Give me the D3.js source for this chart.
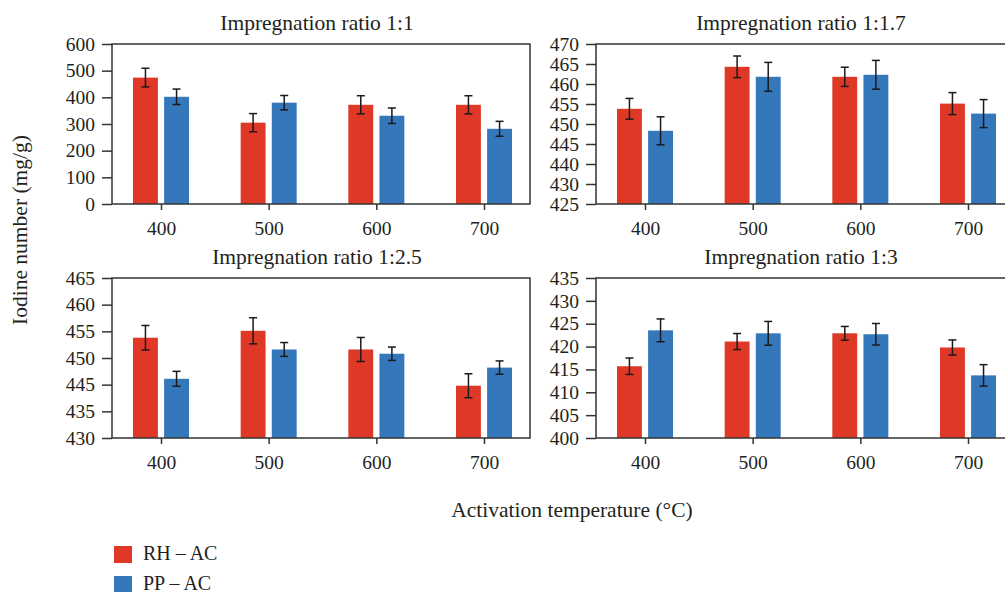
<!DOCTYPE html>
<html>
<head>
<meta charset="UTF-8">
<title>Iodine number</title>
<script src="https://d3js.org/d3.v7.min.js"></script>
<style>
  body { margin: 0; background: #fff; }
  svg { display: block; }
  .axis line { stroke: #333; stroke-width: 1.5; }
</style>
</head>
<body>
<svg width="1005" height="592"></svg>
<script>

// DATA

var temps = ["400", "500", "600", "700"];
var seriesNames = ["RH \u2013 AC", "PP \u2013 AC"];
var seriesColors = ["#e03826", "#3577bb"];
var panelTitles = ["Impregnation ratio 1:1", "Impregnation ratio 1:1.7",
                   "Impregnation ratio 1:2.5", "Impregnation ratio 1:3"];

// ratio 1:1
var rh11 = [474, 305, 372, 372];
var rh11Err = [35, 34, 34, 34];
var pp11 = [402, 380, 331, 282];
var pp11Err = [29, 27, 29, 28];
var ticks11 = [0, 100, 200, 300, 400, 500, 600];
var labels11 = ["0", "100", "200", "300", "400", "500", "600"];

// ratio 1:1.7
var rh17 = [453.8, 464.3, 461.8, 455.1];
var rh17Err = [2.6, 2.7, 2.4, 2.75];
var pp17 = [448.3, 461.8, 462.3, 452.6];
var pp17Err = [3.5, 3.6, 3.6, 3.5];
var ticks17 = [430, 435, 440, 445, 450, 455, 460, 465, 470];
var labels17 = ["425", "430", "440", "445", "450", "455", "460", "465", "470"];

// ratio 1:2.5
var rh25 = [453.8, 455.1, 451.6, 444.8];
var rh25Err = [2.3, 2.45, 2.25, 2.25];
var pp25 = [446.1, 451.6, 450.8, 448.2];
var pp25Err = [1.4, 1.3, 1.25, 1.25];
var ticks25 = [435, 440, 445, 450, 455, 460, 465];
var labels25 = ["430", "435", "445", "450", "455", "460", "465"];

// ratio 1:3
var rh3 = [415.7, 421.1, 422.9, 419.8];
var rh3Err = [1.8, 1.75, 1.5, 1.65];
var pp3 = [423.55, 422.9, 422.7, 413.7];
var pp3Err = [2.5, 2.6, 2.35, 2.35];
var ticks3 = [400, 405, 410, 415, 420, 425, 430, 435];
var labels3 = ["400", "405", "410", "415", "420", "425", "430", "435"];

// SETUP

var serif = "'Liberation Serif', 'Times New Roman', serif";
var ink = "#231f20";
var svg = d3.select("svg").attr("font-family", serif);
var panelW = 418, panelH = 160;

var panels = [
  { title: panelTitles[0], x: 112, y: 44, vals: [rh11, pp11], errs: [rh11Err, pp11Err], ticks: ticks11, labels: labels11 },
  { title: panelTitles[1], x: 596, y: 44, vals: [rh17, pp17], errs: [rh17Err, pp17Err], ticks: ticks17, labels: labels17 },
  { title: panelTitles[2], x: 112, y: 278, vals: [rh25, pp25], errs: [rh25Err, pp25Err], ticks: ticks25, labels: labels25 },
  { title: panelTitles[3], x: 596, y: 278, vals: [rh3, pp3], errs: [rh3Err, pp3Err], ticks: ticks3, labels: labels3 }
];

var x = d3.scalePoint().domain(temps).range([49, 372]);
var xSub = d3.scaleBand().domain([0, 1]).range([-28, 28]).paddingInner(0.2);

function styleAxis(a) {
  a.select(".domain").remove();
  a.attr("font-family", serif).attr("font-size", 19.5);
  a.selectAll("text").attr("fill", ink);
}

panels.forEach(function (p) {
  var g = svg.append("g").attr("transform", "translate(" + p.x + "," + p.y + ")");
  var y = d3.scaleLinear()
    .domain([p.ticks[0], p.ticks[p.ticks.length - 1]])
    .range([panelH, 0]);

  // bars
  var rows = [];
  temps.forEach(function (t, i) {
    [0, 1].forEach(function (s) {
      rows.push({ t: t, s: s, v: p.vals[s][i], e: p.errs[s][i] });
    });
  });

  g.selectAll(".bar").data(rows).enter().append("rect")
    .attr("class", "bar")
    .attr("x", function (d) { return x(d.t) + xSub(d.s); })
    .attr("y", function (d) { return y(d.v); })
    .attr("width", xSub.bandwidth())
    .attr("height", function (d) { return panelH - y(d.v); })
    .attr("fill", function (d) { return seriesColors[d.s]; });

  // error bars
  var eb = g.selectAll(".err").data(rows).enter().append("g")
    .attr("class", "err")
    .attr("transform", function (d) { return "translate(" + (x(d.t) + xSub(d.s) + xSub.bandwidth() / 2) + ",0)"; })
    .attr("stroke", "#1a1a1a")
    .attr("stroke-width", 1.5);
  eb.append("line")
    .attr("y1", function (d) { return y(d.v + d.e); })
    .attr("y2", function (d) { return y(d.v - d.e); });
  eb.append("line").attr("x1", -4).attr("x2", 4)
    .attr("y1", function (d) { return y(d.v + d.e); })
    .attr("y2", function (d) { return y(d.v + d.e); });
  eb.append("line").attr("x1", -4).attr("x2", 4)
    .attr("y1", function (d) { return y(d.v - d.e); })
    .attr("y2", function (d) { return y(d.v - d.e); });

  // frame
  g.append("rect")
    .attr("width", panelW).attr("height", panelH)
    .attr("fill", "none").attr("stroke", "#333").attr("stroke-width", 1.5);

  // axes
  g.append("g").attr("class", "axis")
    .call(d3.axisLeft(y).tickValues(p.ticks)
      .tickFormat(function (d, i) { return p.labels[i]; })
      .tickSize(10).tickSizeOuter(0).tickPadding(7))
    .call(styleAxis);

  g.append("g").attr("class", "axis")
    .attr("transform", "translate(0," + panelH + ")")
    .call(d3.axisBottom(x).tickSize(6).tickSizeOuter(0).tickPadding(11))
    .call(styleAxis);

  g.append("text")
    .attr("x", panelW / 2 - 4).attr("y", -14)
    .attr("text-anchor", "middle")
    .attr("font-size", 21.5).attr("fill", ink)
    .text(p.title);
});

// axis titles
svg.append("text")
  .attr("transform", "translate(27,230) rotate(-90)")
  .attr("text-anchor", "middle")
  .attr("font-size", 21.5).attr("fill", ink)
  .text("Iodine number (mg/g)");

svg.append("text")
  .attr("x", 572).attr("y", 517)
  .attr("text-anchor", "middle")
  .attr("font-size", 21.5).attr("fill", ink)
  .text("Activation temperature (\u00b0C)");

// legend
var leg = svg.selectAll(".leg").data(seriesNames).enter().append("g")
  .attr("class", "leg")
  .attr("transform", function (d, i) { return "translate(114," + (546 + i * 30) + ")"; });
leg.append("rect").attr("width", 18).attr("height", 17)
  .attr("fill", function (d, i) { return seriesColors[i]; });
leg.append("text").attr("x", 29).attr("y", 13.5)
  .attr("font-size", 20).attr("fill", ink)
  .text(function (d) { return d; });

</script>
</body>
</html>
